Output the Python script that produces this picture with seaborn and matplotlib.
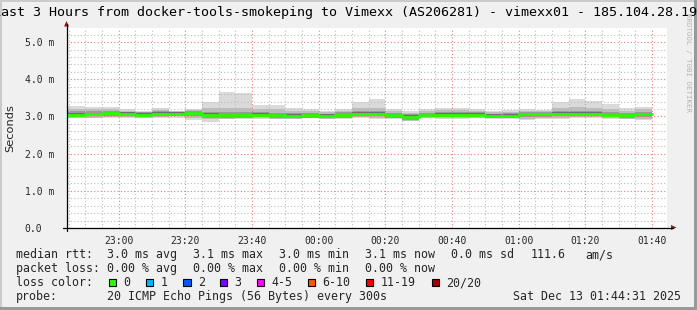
import numpy as np
import pandas as pd
import matplotlib
matplotlib.use("Agg")
import matplotlib.pyplot as plt
import matplotlib.dates as mdates
from matplotlib.patches import Rectangle, Polygon
from matplotlib.lines import Line2D
from matplotlib.ticker import MultipleLocator
import seaborn as sns

# ---------------- data (values in milliseconds, 5-minute steps) ----------------
graph_start = "2025-12-12 22:44:31"
graph_end = "2025-12-13 01:44:31"
step_end_first = "2025-12-12 22:50"
step_end_last = "2025-12-13 01:40"

rtt_median = [3.05, 3.06, 3.09, 3.07, 3.05, 3.07, 3.08, 3.10, 3.05, 3.03,
              3.03, 3.05, 3.03, 3.02, 3.03, 3.02, 3.04, 3.08, 3.08, 3.03,
              2.98, 3.04, 3.05, 3.05, 3.05, 3.02, 3.02, 3.06, 3.06, 3.07,
              3.07, 3.08, 3.04, 3.03, 3.06]
rtt_max = [3.29, 3.25, 3.26, 3.20, 3.16, 3.23, 3.16, 3.20, 3.38, 3.67,
           3.63, 3.31, 3.31, 3.22, 3.20, 3.16, 3.20, 3.40, 3.47, 3.20,
           3.14, 3.20, 3.23, 3.23, 3.20, 3.14, 3.18, 3.20, 3.18, 3.38,
           3.48, 3.42, 3.34, 3.22, 3.26]
rtt_p90 = [3.20, 3.19, 3.20, 3.16, 3.13, 3.18, 3.14, 3.17, 3.22, 3.24,
           3.22, 3.20, 3.19, 3.15, 3.15, 3.12, 3.15, 3.22, 3.24, 3.15,
           3.10, 3.15, 3.18, 3.18, 3.16, 3.11, 3.13, 3.16, 3.14, 3.23,
           3.26, 3.24, 3.19, 3.15, 3.19]
rtt_p75 = [3.14, 3.14, 3.16, 3.13, 3.11, 3.14, 3.13, 3.16, 3.13, 3.12,
           3.11, 3.12, 3.10, 3.09, 3.10, 3.08, 3.11, 3.15, 3.14, 3.10,
           3.06, 3.10, 3.12, 3.12, 3.11, 3.08, 3.09, 3.12, 3.12, 3.14,
           3.15, 3.15, 3.11, 3.10, 3.13]
rtt_p60 = [3.09, 3.10, 3.13, 3.11, 3.09, 3.11, 3.12, 3.13, 3.09, 3.07,
           3.07, 3.09, 3.07, 3.06, 3.07, 3.06, 3.08, 3.12, 3.12, 3.07,
           3.03, 3.08, 3.09, 3.09, 3.09, 3.06, 3.06, 3.10, 3.10, 3.11,
           3.11, 3.12, 3.08, 3.07, 3.10]
rtt_p40 = [3.02, 3.03, 3.06, 3.04, 3.02, 3.04, 3.05, 3.06, 3.01, 2.99,
           2.99, 3.01, 2.99, 2.98, 3.00, 2.98, 3.01, 3.05, 3.04, 2.99,
           2.94, 3.01, 3.02, 3.02, 3.02, 2.99, 2.99, 3.02, 3.03, 3.04,
           3.04, 3.05, 3.01, 2.99, 3.02]
rtt_p25 = [2.99, 3.00, 3.02, 3.01, 2.99, 3.01, 3.02, 3.01, 2.97, 2.96,
           2.96, 2.98, 2.95, 2.95, 2.97, 2.95, 2.97, 3.01, 3.00, 2.96,
           2.91, 2.98, 2.99, 2.99, 2.99, 2.96, 2.96, 2.98, 2.99, 3.00,
           3.01, 3.01, 2.98, 2.96, 2.98]
rtt_p10 = [2.97, 2.97, 2.99, 2.99, 2.97, 2.98, 3.00, 2.95, 2.92, 2.94,
           2.95, 2.96, 2.94, 2.94, 2.96, 2.94, 2.95, 2.98, 2.96, 2.95,
           2.89, 2.97, 2.96, 2.96, 2.97, 2.95, 2.95, 2.94, 2.96, 2.97,
           2.98, 2.98, 2.96, 2.94, 2.94]
rtt_min = [2.95, 2.95, 2.96, 2.96, 2.95, 2.95, 2.97, 2.90, 2.86, 2.92,
           2.93, 2.93, 2.92, 2.92, 2.95, 2.92, 2.93, 2.95, 2.92, 2.93,
           2.87, 2.95, 2.93, 2.93, 2.95, 2.93, 2.93, 2.90, 2.93, 2.93,
           2.95, 2.95, 2.93, 2.92, 2.90]

y_ticks = [0, 1, 2, 3, 4, 5]
y_tick_labels = ["0.0", "1.0 m", "2.0 m", "3.0 m", "4.0 m", "5.0 m"]

title = "Last 3 Hours from docker-tools-smokeping to Vimexx (AS206281) - vimexx01 - 185.104.28.19"
stats_rows = [
    ["median rtt:", "3.0 ms avg", "3.1 ms max", "3.0 ms min", "3.1 ms now", "0.0 ms sd", "111.6", "am/s"],
    ["packet loss:", "0.00 % avg", "0.00 % max", "0.00 % min", "0.00 % now"],
]
loss_labels = ["0", "1", "2", "3", "4-5", "6-10", "11-19", "20/20"]
loss_colors = ["#26ff00", "#00b8ff", "#0059ff", "#7e00ff", "#ff00ff", "#ff5500", "#ff0000", "#a10000"]
probe_text = "20 ICMP Echo Pings (56 Bytes) every 300s"
date_text = "Sat Dec 13 01:44:31 2025"
watermark = "RRDTOOL / TOBI OETIKER"

# ---------------- layout helpers ----------------
W, H = 697, 310
def fx(x):
    return x / W
def fy(y):
    return 1 - y / H

sns.set_style("white")
plt.rcParams["font.family"] = ["DejaVu Sans Mono", "DejaVu Sans"]

fig = plt.figure(figsize=(W / 100, H / 100), dpi=100)
fig.patch.set_facecolor("#f0f0f0")

# frame shading
fig.add_artist(Rectangle((0, 0), fx(2), 1, transform=fig.transFigure, color="#cbcbcb", lw=0))
fig.add_artist(Rectangle((0, fy(2)), 1, 2 / H, transform=fig.transFigure, color="#cbcbcb", lw=0))
fig.add_artist(Rectangle((fx(694), 0), 3 / W, 1, transform=fig.transFigure, color="#999999", lw=0))
fig.add_artist(Rectangle((0, 0), 1, 3 / H, transform=fig.transFigure, color="#999999", lw=0))

ax = fig.add_axes([fx(67), fy(228), 600 / W, 200 / H])
ax.set_facecolor("white")

t0 = pd.Timestamp(graph_start)
t1 = pd.Timestamp(graph_end)
step_ends = pd.date_range(step_end_first, step_end_last, freq="5min")
x_edges = [t0] + list(step_ends)

def ext(a):
    return [a[0]] + list(a)

smoke_layers = [
    (rtt_min, rtt_max, "#dadada"),
    (rtt_p10, rtt_p90, "#bdbdbd"),
    (rtt_p25, rtt_p75, "#9a9a9a"),
    (rtt_p40, rtt_p60, "#6e6e6e"),
]
for i, (lo, hi, col) in enumerate(smoke_layers):
    ax.fill_between(x_edges, ext(lo), ext(hi), step="pre", color=col, lw=0, zorder=1 + 0.1 * i)

df = pd.DataFrame({"time": x_edges, "median": ext(rtt_median)})
sns.lineplot(data=df, x="time", y="median", ax=ax, color=loss_colors[0], lw=2.0,
             drawstyle="steps-pre", zorder=3, legend=False)

ax.set_xlim(t0, t1)
ax.set_ylim(0, 5.38)
ax.set_xlabel("")
ax.set_ylabel("")

# grid
ax.yaxis.set_major_locator(MultipleLocator(1.0))
ax.yaxis.set_minor_locator(MultipleLocator(0.2))
ax.xaxis.set_major_locator(mdates.MinuteLocator(byminute=[0, 20, 40]))
ax.xaxis.set_minor_locator(mdates.MinuteLocator(byminute=list(range(0, 60, 5))))
ax.xaxis.set_major_formatter(mdates.DateFormatter("%H:%M"))
ax.set_axisbelow(False)
ax.grid(which="minor", color="#bcbcbc", ls=(0, (1, 2)), lw=0.8)
ax.grid(which="major", color="#f07a7a", ls=(0, (1, 2)), lw=0.8)

ax.set_yticks(y_ticks)
ax.set_yticklabels(y_tick_labels)
for lbl in ax.get_yticklabels():
    lbl.set_horizontalalignment("left")
ax.tick_params(axis="y", which="major", pad=27.5, length=3, width=0.72, color="#555555",
               labelsize=7, direction="out")
ax.tick_params(axis="y", which="minor", length=2, width=0.72, color="#999999", direction="out")
ax.tick_params(axis="x", which="major", pad=3, length=3, width=0.72, color="#555555",
               labelsize=7, direction="out")
ax.tick_params(axis="x", which="minor", length=2, width=0.72, color="#999999", direction="out")
for s in ax.spines.values():
    s.set_visible(False)

# axes with arrows
fig.add_artist(Line2D([fx(66.5), fx(66.5)], [fy(231), fy(24)], transform=fig.transFigure, color="black", lw=0.9))
fig.add_artist(Line2D([fx(63), fx(673)], [fy(227.5), fy(227.5)], transform=fig.transFigure, color="black", lw=0.9))
fig.add_artist(Polygon([(fx(64), fy(26.5)), (fx(69), fy(26.5)), (fx(66.5), fy(21))], closed=True,
                       transform=fig.transFigure, color="#8f1c1c", lw=0))
fig.add_artist(Polygon([(fx(671), fy(225)), (fx(671), fy(230)), (fx(676.5), fy(227.5))], closed=True,
                       transform=fig.transFigure, color="#8f1c1c", lw=0))

# title, axis label, watermark
fig.text(fx(345), fy(12.5), title, ha="center", va="center", fontsize=9.6, color="black")
fig.text(fx(10.5), fy(128), "Seconds", ha="center", va="center", rotation=90, fontsize=8.2,
         family="DejaVu Sans")
fig.text(fx(688), fy(13), watermark, ha="center", va="top", rotation=270, fontsize=5.4, color="#b4b4b4")

# legend block
fs = 8.4
col_x = [16, 107, 193, 279, 365, 451, 531, 585]
baselines = [258, 272, 286, 300]
for r, row in enumerate(stats_rows):
    for c, txt in enumerate(row):
        fig.text(fx(col_x[c]), fy(baselines[r]), txt, ha="left", va="baseline", fontsize=fs)

fig.text(fx(16), fy(baselines[2]), "loss color:", ha="left", va="baseline", fontsize=fs)
sq_x = [108, 145.7, 183, 219.7, 256.3, 307, 365.7, 431]
for lab, col, sx in zip(loss_labels, loss_colors, sq_x):
    fig.add_artist(Rectangle((fx(sx + 0.5), fy(285.5)), 7 / W, 7 / H, transform=fig.transFigure,
                             facecolor=col, edgecolor="black", lw=0.8))
    fig.text(fx(sx + 15), fy(baselines[2]), lab, ha="left", va="baseline", fontsize=fs)

fig.text(fx(16), fy(baselines[3]), "probe:", ha="left", va="baseline", fontsize=fs)
fig.text(fx(107), fy(baselines[3]), probe_text, ha="left", va="baseline", fontsize=fs)
fig.text(fx(513), fy(baselines[3]), date_text, ha="left", va="baseline", fontsize=fs)

fig.savefig("out.png", dpi=100, facecolor=fig.get_facecolor())
